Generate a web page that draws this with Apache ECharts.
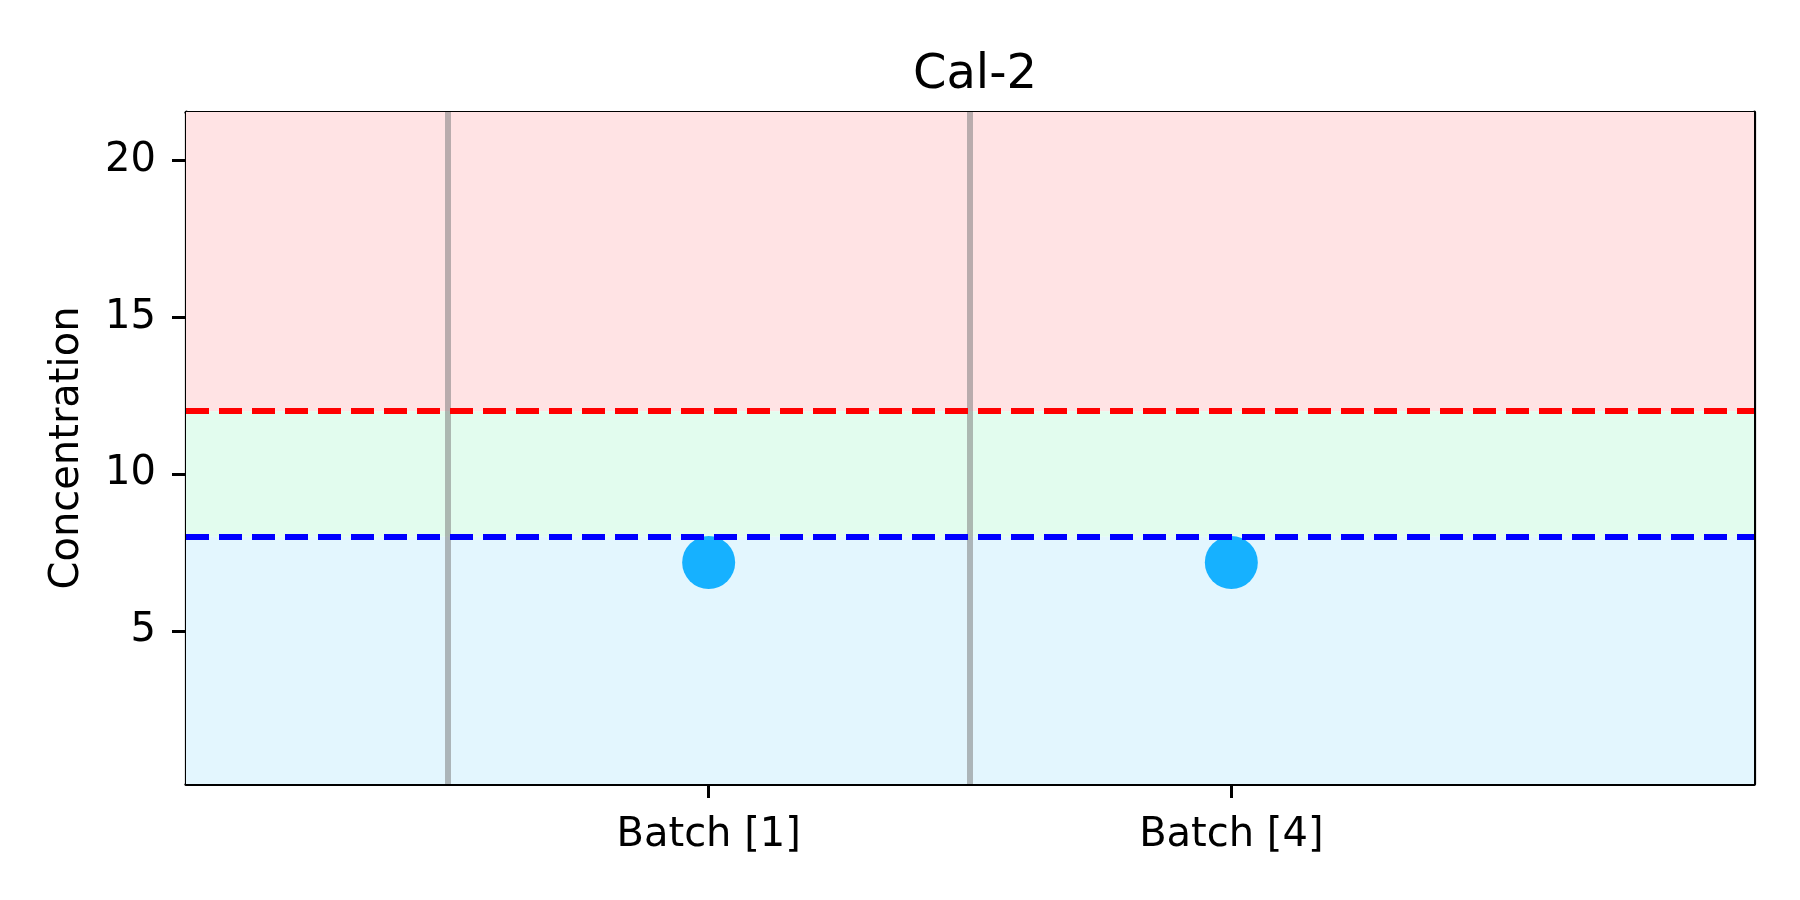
<!DOCTYPE html>
<html>
<head>
<meta charset="utf-8">
<script src="https://cdn.jsdelivr.net/npm/echarts@6/dist/echarts.min.js"></script>
<style>html,body{margin:0;padding:0;background:#fff}#c{width:1800px;height:900px}</style>
</head>
<body>
<div id="c"></div>
<script>
const title = 'Cal-2';
const categories = ['Batch [1]', 'Batch [4]'];
const values = [7.18, 7.18];
const upperLimit = 12;
const lowerLimit = 8;
const yTicks = [5, 10, 15, 20];
const yMin = 0.115;
const yMax = 21.54;
const xMin = -1;
const xMax = 2;

const font = 'DejaVu Sans';
const points = values.map((v, i) => [i, v]);
const xTickVals = categories.map((_, i) => i);
const separators = categories.map((_, i) => i - 0.5);

const chart = echarts.init(document.getElementById('c'), null, {renderer: 'canvas'});
const axisLineStyle = {color: '#000', width: 3.2};
chart.setOption({
  animation: false,
  backgroundColor: '#fff',
  title: {
    text: title, left: 970, top: 47, textAlign: 'center',
    textStyle: {fontFamily: font, fontSize: 48, fontWeight: 'normal', color: '#000'}
  },
  grid: {left: 186, right: 46, top: 112, bottom: 116},
  xAxis: [{
    type: 'value', min: xMin, max: xMax, position: 'bottom',
    splitLine: {show: false},
    axisLine: {show: true, onZero: false, lineStyle: axisLineStyle},
    axisTick: {show: true, customValues: xTickVals, length: 14, lineStyle: {color: '#000', width: 3}},
    axisLabel: {customValues: xTickVals, formatter: v => categories[Math.round(v)] || '',
      margin: 32, fontFamily: font, fontSize: 40, color: '#000'}
  }, {
    type: 'value', min: xMin, max: xMax, position: 'top',
    splitLine: {show: false},
    axisLine: {show: true, onZero: false, lineStyle: axisLineStyle},
    axisTick: {show: false}, axisLabel: {show: false}
  }],
  yAxis: [{
    type: 'value', min: yMin, max: yMax, position: 'left',
    name: 'Concentration', nameLocation: 'middle', nameRotate: 90, nameGap: 98,
    nameTextStyle: {fontFamily: font, fontSize: 40, color: '#000'},
    splitLine: {show: false},
    axisLine: {show: true, onZero: false, lineStyle: axisLineStyle},
    axisTick: {show: true, customValues: yTicks, length: 14, lineStyle: {color: '#000', width: 3}},
    axisLabel: {customValues: yTicks, margin: 30, fontFamily: font, fontSize: 40, color: '#000'}
  }, {
    type: 'value', min: yMin, max: yMax, position: 'right',
    splitLine: {show: false},
    axisLine: {show: true, onZero: false, lineStyle: axisLineStyle},
    axisTick: {show: false}, axisLabel: {show: false}
  }],
  series: [{
    type: 'scatter', data: [], z: 1, silent: true,
    markArea: {
      silent: true,
      data: [
        [{yAxis: upperLimit, itemStyle: {color: '#FFE3E4'}}, {yAxis: yMax}],
        [{yAxis: lowerLimit, itemStyle: {color: '#E2FCEE'}}, {yAxis: upperLimit}],
        [{yAxis: yMin, itemStyle: {color: '#E3F6FE'}}, {yAxis: lowerLimit}]
      ]
    },
    markLine: {
      silent: true, symbol: 'none', label: {show: false},
      lineStyle: {color: 'rgba(128,128,128,0.55)', width: 6, type: 'solid'},
      data: separators.map(s => ({xAxis: s}))
    }
  }, {
    type: 'scatter', data: points, symbol: 'circle', symbolSize: 53, z: 3,
    itemStyle: {color: '#16B1FF', opacity: 1}
  }, {
    type: 'scatter', data: [], z: 4, silent: true,
    markLine: {
      silent: true, symbol: 'none', label: {show: false},
      data: [
        {yAxis: upperLimit, lineStyle: {color: '#FF0000', width: 6, type: [23, 10]}},
        {yAxis: lowerLimit, lineStyle: {color: '#0000FF', width: 6, type: [23, 10]}}
      ]
    }
  }]
});
</script>
</body>
</html>
